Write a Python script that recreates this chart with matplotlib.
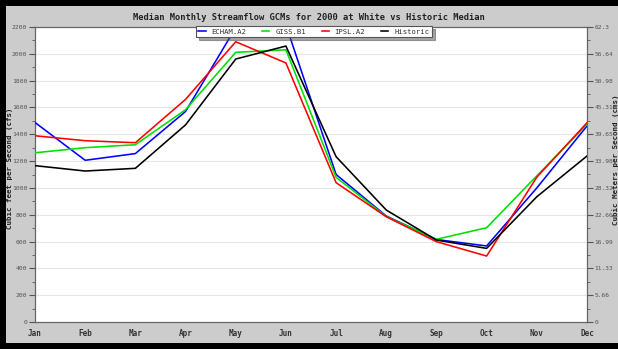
import matplotlib
matplotlib.use("Agg")
import matplotlib.pyplot as plt
from matplotlib.patches import Rectangle
import numpy as np

months = ["Jan", "Feb", "Mar", "Apr", "May", "Jun",
          "Jul", "Aug", "Sep", "Oct", "Nov", "Dec"]

echam_a2 = [1488, 1206, 1256, 1570, 2195, 2215, 1100, 790, 615, 567, 1000, 1462]
giss_b1 = [1262, 1300, 1322, 1583, 2011, 2030, 1079, 786, 617, 703, 1090, 1474]
ipsl_a2 = [1389, 1352, 1337, 1660, 2090, 1932, 1039, 785, 599, 492, 1080, 1486]
historic = [1166, 1126, 1146, 1470, 1961, 2058, 1233, 835, 611, 549, 934, 1238]

series_names = ["ECHAM.A2", "GISS.B1", "IPSL.A2", "Historic"]
series_colors = ["#0000ff", "#00e000", "#ff0000", "#000000"]

cfs_ticks = [0, 200, 400, 600, 800, 1000, 1200, 1400, 1600, 1800, 2000, 2200]
cms_labels = ["0", "5.66", "11.33", "16.99", "22.66", "28.32",
              "33.98", "39.65", "45.31", "50.98", "56.64", "62.3"]
cfs_max = 2200
cms_max = 62.3

W, H = 618, 349
fig = plt.figure(figsize=(W / 100, H / 100), dpi=100)
fig.patch.set_facecolor("black")
# gray panel inside the black frame
fig.patches.append(Rectangle((6 / W, 6 / H), (W - 6) / W, (H - 12) / H,
                             transform=fig.transFigure, facecolor="#cccccc",
                             edgecolor="none", zorder=-5))

mono = "DejaVu Sans Mono"
ax = fig.add_axes([35 / W, (H - 322) / H, (587 - 35) / W, (322 - 27) / H])
ax.set_facecolor("white")
x = np.arange(len(months))
for vals, name, col in zip([echam_a2, giss_b1, ipsl_a2, historic],
                           series_names, series_colors):
    ax.plot(x, vals, color=col, lw=1.15, label=name, zorder=3)

ax.set_xlim(0, len(months) - 1)
ax.set_ylim(0, cfs_max)
ax.set_xticks(x)
ax.set_xticklabels(months, fontsize=5.5, family=mono, fontweight="bold",
                   color="#333333")
ax.tick_params(axis="x", length=0, pad=5)
ax.set_yticks(cfs_ticks)
ax.set_yticklabels([str(t) for t in cfs_ticks], fontsize=4.6, family=mono,
                   color="#555555")
ax.set_yticks(np.arange(100, cfs_max, 200), minor=True)
ax.tick_params(axis="y", which="major", length=4, width=0.8, color="#555555", pad=1.5)
ax.tick_params(axis="y", which="minor", length=2, width=0.6, color="#555555")
ax.grid(axis="y", which="major", color="#e6e6e6", lw=0.8, zorder=0)
for s in ax.spines.values():
    s.set_color("#666666")
    s.set_linewidth(0.9)
ax.set_ylabel("Cubic feet per Second (cfs)", fontsize=5.3, family=mono,
              fontweight="bold", color="#222222")
ax.yaxis.set_label_coords(-0.040, 0.52)

ax2 = ax.twinx()
ax2.set_ylim(0, cms_max)
ax2.set_yticks([t * cms_max / cfs_max for t in cfs_ticks])
ax2.set_yticklabels(cms_labels, fontsize=4.5, family=mono, color="#555555")
ax2.set_yticks([t * cms_max / cfs_max for t in np.arange(100, cfs_max, 200)],
               minor=True)
ax2.tick_params(axis="y", which="major", length=4, width=0.8, color="#555555", pad=1.5)
ax2.tick_params(axis="y", which="minor", length=2, width=0.6, color="#555555")
for s in ax2.spines.values():
    s.set_visible(False)
ax2.set_ylabel("Cubic Meters per Second (cms)", fontsize=5.4, family=mono,
               fontweight="bold", color="#222222")
ax2.yaxis.set_label_coords(1.046, 0.55)

fig.text(0.5, (H - 17) / H,
         "Median Monthly Streamflow GCMs for 2000 at White vs Historic Median",
         ha="center", va="center", fontsize=6.3, family=mono,
         fontweight="bold", color="#222222")

leg = ax.legend(loc="upper center", bbox_to_anchor=(0.505, 1.015), ncol=4,
                prop={"family": mono, "size": 5.2},
                frameon=True, fancybox=False, shadow=True,
                handlelength=1.0, handletextpad=0.8, columnspacing=2.2,
                borderpad=0.35)
leg.get_frame().set_edgecolor("#555555")
leg.get_frame().set_linewidth(0.8)
for t in leg.get_texts():
    t.set_color("#333333")
leg.set_zorder(10)

fig.savefig("out.png", dpi=100, facecolor=fig.get_facecolor())
